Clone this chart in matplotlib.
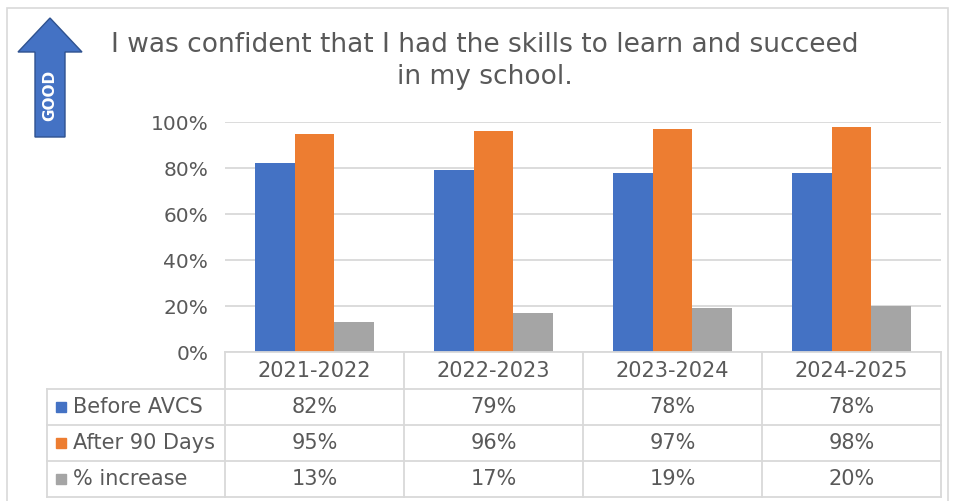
import numpy as np
import matplotlib
matplotlib.use("Agg")
import matplotlib.pyplot as plt
from matplotlib.patches import Polygon, Rectangle
from matplotlib.lines import Line2D
import matplotlib.transforms as mtransforms

plt.rcParams['font.family'] = ['DejaVu Sans']

# data
years = ['2021-2022', '2022-2023', '2023-2024', '2024-2025']
series_names = ['Before AVCS', 'After 90 Days', '% increase']
before = [82, 79, 78, 78]
after = [95, 96, 97, 98]
increase = [13, 17, 19, 20]
colors = ['#4472C4', '#ED7D31', '#A5A5A5']
txt = '#595959'

W, H = 954, 501
fig = plt.figure(figsize=(W / 100, H / 100), dpi=100)

def fx(px):
    return px / W

def fy(py):
    return 1 - py / H

# outer border
fig.patches.append(Rectangle((fx(7), fy(505)), fx(948) - fx(7), fy(8) - fy(505),
                             transform=fig.transFigure, fill=False,
                             edgecolor='#D9D9D9', lw=1.2))

ax = fig.add_axes([fx(225), fy(352), fx(941) - fx(225), fy(122) - fy(352)])
x = np.arange(len(years))
w = 0.223
vals = [before, after, increase]
for i, v in enumerate(vals):
    ax.bar(x + (i - 1) * w, np.array(v) / 100, w, color=colors[i], zorder=3)
ax.set_xlim(-0.5, len(years) - 0.5)
ax.set_ylim(0, 1)
ax.set_yticks(np.arange(0, 1.01, 0.2))
ax.set_yticklabels([f'{int(round(t * 100))}%' for t in np.arange(0, 1.01, 0.2)],
                   fontsize=14.5, color=txt)
ax.set_xticks([])
ax.tick_params(axis='y', length=0, pad=12)
ax.grid(axis='y', color='#D9D9D9', lw=1.3, zorder=0)
for s in ax.spines.values():
    s.set_visible(False)

# data table below the axis
bt = mtransforms.blended_transform_factory(ax.transData, fig.transFigure)
rows_y = [352, 389, 425, 461, 497]
lc = '#D9D9D9'
fig.add_artist(Line2D([fx(225), fx(941)], [fy(352), fy(352)], color=lc, lw=1.3))
for ry in rows_y[1:]:
    fig.add_artist(Line2D([fx(47), fx(941)], [fy(ry), fy(ry)], color=lc, lw=1.3))
for b in np.arange(-0.5, len(years), 1.0):
    ax.add_artist(Line2D([b, b], [fy(352), fy(497)], transform=bt, color=lc,
                         lw=1.3, clip_on=False))
fig.add_artist(Line2D([fx(47), fx(47)], [fy(389), fy(497)], color=lc, lw=1.3))

for j, yr in enumerate(years):
    ax.text(j, fy(371), yr, transform=bt, ha='center', va='center',
            fontsize=15, color=txt)
for i, name in enumerate(series_names):
    yc = fy((rows_y[i + 1] + rows_y[i + 2]) / 2)
    fig.patches.append(Rectangle((fx(56), yc - 5 / H), 10 / W, 10 / H,
                                 transform=fig.transFigure, color=colors[i]))
    fig.text(fx(73), yc, name, ha='left', va='center', fontsize=15, color=txt)
    for j in range(len(years)):
        ax.text(j, yc, f'{vals[i][j]}%', transform=bt, ha='center',
                va='center', fontsize=15, color=txt)

# title
fig.text(fx(485), fy(61), 'I was confident that I had the skills to learn and succeed\nin my school.',
         ha='center', va='center', fontsize=19, color=txt, linespacing=1.3)

# GOOD arrow
pts = [(50, 18), (82, 52), (65, 52), (65, 137), (35, 137), (35, 52), (18, 52)]
fig.patches.append(Polygon([(fx(a), fy(b)) for a, b in pts], closed=True,
                           transform=fig.transFigure, facecolor='#4472C4',
                           edgecolor='#2F528F', lw=1))
fig.text(fx(50), fy(95), 'GOOD', rotation=90, ha='center', va='center',
         fontsize=11, color='white', fontweight='bold')

fig.savefig('out.png', dpi=100)
